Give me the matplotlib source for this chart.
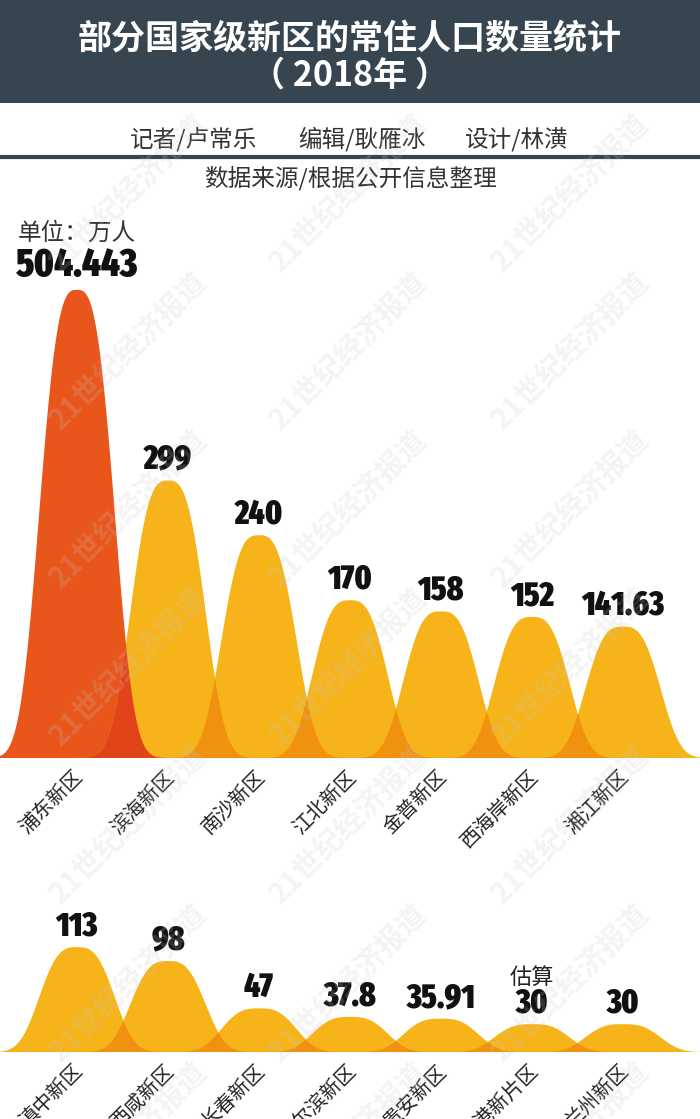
import os
import numpy as np
import matplotlib
matplotlib.use("Agg")
import matplotlib.pyplot as plt
from matplotlib import font_manager
from matplotlib.patches import Rectangle

plt.rcParams['font.family'] = ['Noto Sans CJK SC', 'DejaVu Sans']

# 数据（单位：万人）
top_names = ["浦东新区", "滨海新区", "南沙新区", "江北新区", "金普新区", "西海岸新区", "湘江新区"]
top_values = [504.443, 299, 240, 170, 158, 152, 141.63]
top_labels = ["504.443", "299", "240", "170", "158", "152", "141.63"]

bottom_names = ["滇中新区", "西咸新区", "长春新区", "哈尔滨新区", "贵安新区", "临港新片区", "兰州新区"]
bottom_values = [113, 98, 47, 37.8, 35.91, 30, 30]
bottom_labels = ["113", "98", "47", "37.8", "35.91", "30", "30"]

# 样式
W, H = 700, 1119
PX_PER_UNIT = 0.928
BUMP_A = 0.48      # 波峰宽度（以类别间距为单位）
BUMP_P = 3.0       # 波峰形状指数
XLIM = (-77 / 91, (W - 77) / 91)
YELLOW = "#F6B41A"
YELLOW_OVER = "#F0910F"
RED = "#E8561C"
RED_OVER = "#E2441A"
HEADER = "#36454F"


def _weight_num(w):
    if isinstance(w, (int, float)):
        return w
    return {"black": 900, "heavy": 900, "extra bold": 800, "bold": 700,
            "semibold": 600, "demibold": 600}.get(str(w).lower(), 400)


# 找一个窄体粗体字体来写数字
def pick_number_font():
    best, best_score = None, -1
    for f in font_manager.fontManager.ttflist:
        nm = (f.name + " " + os.path.basename(f.fname)).lower().replace(" ", "")
        if any(k in nm for k in ("serif", "mono", "cjk", "italic", "oblique")):
            continue
        narrow = 0
        if "extracondensed" in nm or "extra-condensed" in str(f.stretch):
            narrow = 3
        elif "semicondensed" in nm or "semi-condensed" in str(f.stretch):
            narrow = 1
        elif "condensed" in nm or "narrow" in nm or "condensed" in str(f.stretch):
            narrow = 2
        if narrow == 0:
            continue
        wt = _weight_num(f.weight)
        if "black" in nm:
            wt = max(wt, 900)
        elif "extrabold" in nm:
            wt = max(wt, 800)
        elif "bold" in nm and "semibold" not in nm:
            wt = max(wt, 700)
        if wt < 700:
            continue
        score = narrow * 1000 + wt
        if score > best_score:
            best, best_score = f.fname, score
    if best:
        return font_manager.FontProperties(fname=best), True
    return font_manager.FontProperties(family="DejaVu Sans", weight="bold"), False


NUM_PROP, NUM_NARROW = pick_number_font()

fig = plt.figure(figsize=(W / 100, H / 100), dpi=100)
fig.patch.set_facecolor("white")


def make_axes(baseline_px, ymax):
    ax = fig.add_axes([0, (H - baseline_px) / H, 1, ymax * PX_PER_UNIT / H])
    ax.set_xlim(*XLIM)
    ax.set_ylim(0, ymax)
    ax.axis("off")
    return ax


def draw_bumps(ax, values, labels, names, first_red=False):
    x = np.linspace(XLIM[0], XLIM[1], 2000)
    curves = [v * np.exp(-np.abs((x - i) / BUMP_A) ** BUMP_P) for i, v in enumerate(values)]
    for i, y in enumerate(curves):
        c = RED if (first_red and i == 0) else YELLOW
        ax.fill_between(x, 0, y, color=c, lw=0, zorder=2)
    # 相邻波峰的重叠部分颜色加深
    for i in range(len(curves) - 1):
        c = RED_OVER if (first_red and i == 0) else YELLOW_OVER
        ax.fill_between(x, 0, np.minimum(curves[i], curves[i + 1]), color=c, lw=0, zorder=3)

    for i, (v, lab) in enumerate(zip(values, labels)):
        size = 28 if (first_red and i == 0) else 24
        if not NUM_NARROW:
            size *= 0.75
        prop = NUM_PROP.copy()
        prop.set_size(size)
        ax.annotate(lab, xy=(i, v), xytext=(0, 3), textcoords="offset points",
                    ha="center", va="bottom", fontproperties=prop,
                    color="#111111", zorder=6, annotation_clip=False)

    for i, n in enumerate(names):
        ax.annotate(n, xy=(i, 0), xytext=(-3, -6), textcoords="offset points",
                    rotation=45, rotation_mode="anchor", ha="right", va="top",
                    fontsize=14.5, color="#222222", annotation_clip=False)


ax1 = make_axes(758, 560)
draw_bumps(ax1, top_values, top_labels, top_names, first_red=True)

ax2 = make_axes(1052, 150)
draw_bumps(ax2, bottom_values, bottom_labels, bottom_names)
ax2.annotate("估算", xy=(5, bottom_values[5]), xytext=(0, 34), textcoords="offset points",
             ha="center", va="center", fontsize=16, color="#222222", annotation_clip=False)

# 水印
for ry in range(7):
    for cx in (128, 348, 570):
        cy = 192 + ry * 158
        fig.text(cx / W, 1 - cy / H, "21世纪经济报道", rotation=45, ha="center", va="center",
                 fontsize=21, fontweight="bold", color="#c8c8c8", alpha=0.2, zorder=5)

# 标题栏
fig.patches.append(Rectangle((0, 1 - 103 / H), 1, 103 / H, transform=fig.transFigure,
                             facecolor=HEADER, edgecolor="none", zorder=10))
fig.text(0.5, 1 - 38 / H, "部分国家级新区的常住人口数量统计", ha="center", va="center",
         fontsize=24.5, fontweight="bold", color="white", zorder=11)
fig.text(0.5, 1 - 75 / H, "（ 2018年 ）", ha="center", va="center",
         fontsize=24.5, fontweight="bold", color="white", zorder=11)

for cx, s in ((194, "记者/卢常乐"), (362, "编辑/耿雁冰"), (517, "设计/林潢")):
    fig.text(cx / W, 1 - 139 / H, s, ha="center", va="center", fontsize=17, color="#333333")

fig.add_artist(plt.Line2D([0, 1], [1 - 157 / H, 1 - 157 / H], transform=fig.transFigure,
                          color=HEADER, lw=3))
fig.text(350 / W, 1 - 178 / H, "数据来源/根据公开信息整理", ha="center", va="center",
         fontsize=17, color="#333333")
fig.text(18 / W, 1 - 233 / H, "单位：万人", ha="left", va="center", fontsize=17, color="#333333")

fig.savefig("out.png", dpi=100)
